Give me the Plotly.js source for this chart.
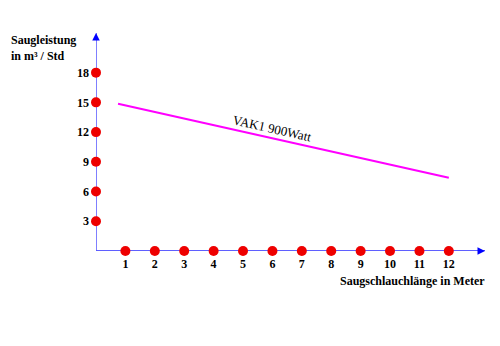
<!DOCTYPE html>
<html><head><meta charset="utf-8">
<script src="https://cdn.plot.ly/plotly-3.0.1.min.js"></script>
<style>html,body{margin:0;padding:0;background:#fff}#c{width:500px;height:346px}</style>
</head><body><div id="c"></div>
<script>
const xTicks = [1,2,3,4,5,6,7,8,9,10,11,12];
const xZeros = [0,0,0,0,0,0,0,0,0,0,0,0];
const yTicks = [3,6,9,12,15,18];
const yZeros = [0,0,0,0,0,0];
const lineX = [0.75, 12];
const lineY = [14.85, 7.4];
const seriesName = 'VAK1 900Watt';
const xTitle = 'Saugschlauchlänge in Meter';
const yTitle = 'Saugleistung<br>in m³ / Std';

const serif = 'Liberation Serif, Times New Roman, serif';
const axisCol = '#5555ff';
const xMax = 13.23, yMax = 22.0;

const traces = [
  {x: lineX, y: lineY, mode: 'lines', line: {color: '#ff00ff', width: 2}, hoverinfo: 'skip', cliponaxis: false},
  {x: xTicks, y: xZeros, mode: 'markers', marker: {color: '#ee0000', size: 10}, cliponaxis: false},
  {x: yZeros, y: yTicks, mode: 'markers', marker: {color: '#ee0000', size: 10}, cliponaxis: false}
];

const layout = {
  width: 500, height: 346,
  margin: {l: 96, r: 15, t: 33, b: 95},
  paper_bgcolor: '#fff', plot_bgcolor: '#fff',
  showlegend: false,
  xaxis: {range: [0, xMax], showgrid: false, zeroline: false, showline: false,
    tickvals: xTicks, ticktext: xTicks.map(String), ticks: '', ticklabelstandoff: 4,
    tickfont: {family: serif, size: 12, color: '#000', weight: 'bold'}},
  yaxis: {range: [0, yMax], showgrid: false, zeroline: false, showline: false,
    tickvals: yTicks, ticktext: yTicks.map(String), ticks: '', ticklabelstandoff: 6,
    tickfont: {family: serif, size: 12, color: '#000', weight: 'bold'}},
  shapes: [
    {type: 'line', layer: 'below', xref: 'x', yref: 'y', x0: 0, y0: 0, x1: xMax, y1: 0, line: {color: '#2a2aff', width: 1.5}},
    {type: 'line', layer: 'below', xref: 'x', yref: 'y', x0: 0, y0: 0, x1: 0, y1: yMax, line: {color: axisCol, width: 1.5}}
  ],
  annotations: [
    {xref: 'x', yref: 'y', x: xMax, y: 0, ax: -6, ay: 0, showarrow: true, arrowhead: 2, arrowsize: 1, arrowwidth: 1.5, arrowcolor: '#0000ff', text: ''},
    {xref: 'x', yref: 'y', x: 0, y: yMax, ax: 0, ay: 6, showarrow: true, arrowhead: 2, arrowsize: 1, arrowwidth: 1.5, arrowcolor: '#0000ff', text: ''},
    {xref: 'paper', yref: 'paper', x: 1, y: 0, xanchor: 'right', yanchor: 'top', yshift: -21, xshift: 2,
     text: xTitle, showarrow: false, font: {family: serif, size: 12, color: '#000', weight: 'bold'}},
    {xref: 'paper', yref: 'paper', x: 0, y: 1, xanchor: 'left', yanchor: 'top', xshift: -87, yshift: 2, align: 'left',
     text: yTitle, showarrow: false, font: {family: serif, size: 12, color: '#000', weight: 'bold'}},
    {xref: 'x', yref: 'y', x: 6.0, y: 12.4, text: seriesName, showarrow: false, textangle: 12.6,
     font: {family: serif, size: 13, color: '#000'}}
  ]
};
Plotly.newPlot('c', traces, layout, {staticPlot: true, displayModeBar: false});
</script>
</body></html>
